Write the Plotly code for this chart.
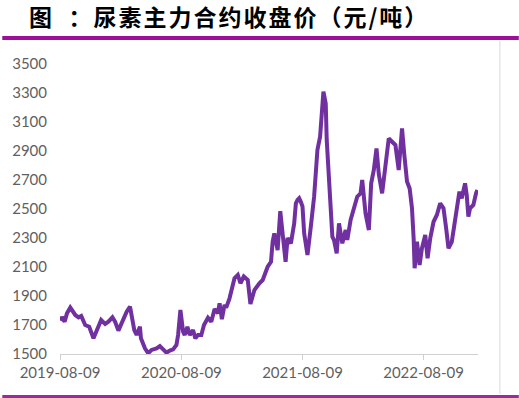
import plotly.graph_objects as go

# Urea main contract closing price (yuan/ton)
dates = [
    "2019-08-10", "2019-08-15", "2019-08-23", "2019-08-30", "2019-09-09", "2019-09-24",
    "2019-10-04", "2019-10-12", "2019-10-24", "2019-11-05", "2019-11-18", "2019-11-28",
    "2019-12-11", "2019-12-23", "2020-01-02", "2020-01-14", "2020-01-22", "2020-02-01",
    "2020-02-16", "2020-02-26", "2020-03-07", "2020-03-12", "2020-03-20", "2020-03-27",
    "2020-04-06", "2020-04-09", "2020-04-21", "2020-05-01", "2020-05-11", "2020-05-26",
    "2020-06-05", "2020-06-15", "2020-06-25", "2020-07-05", "2020-07-15", "2020-07-25",
    "2020-07-30", "2020-08-06", "2020-08-14", "2020-08-19", "2020-08-27", "2020-09-03",
    "2020-09-13", "2020-09-20", "2020-09-28", "2020-10-08", "2020-10-16", "2020-10-28",
    "2020-11-07", "2020-11-17", "2020-11-27", "2020-12-02", "2020-12-09", "2020-12-17",
    "2020-12-22", "2021-01-01", "2021-01-16", "2021-01-26", "2021-02-03", "2021-02-13",
    "2021-02-25", "2021-03-05", "2021-03-17", "2021-04-01", "2021-04-11", "2021-04-26",
    "2021-05-06", "2021-05-11", "2021-05-16", "2021-05-26", "2021-06-03", "2021-06-10",
    "2021-06-19", "2021-06-25", "2021-07-05", "2021-07-15", "2021-07-20", "2021-07-25",
    "2021-07-30", "2021-08-04", "2021-08-09", "2021-08-14", "2021-08-22", "2021-08-24",
    "2021-09-03", "2021-09-13", "2021-09-23", "2021-10-01", "2021-10-11", "2021-10-18",
    "2021-10-21", "2021-10-26", "2021-10-31", "2021-11-07", "2021-11-12", "2021-11-20",
    "2021-11-27", "2021-12-07", "2021-12-17", "2021-12-22", "2022-01-01", "2022-01-11",
    "2022-01-21", "2022-01-31", "2022-02-05", "2022-02-15", "2022-02-25", "2022-03-04",
    "2022-03-12", "2022-03-20", "2022-03-27", "2022-04-06", "2022-04-16", "2022-04-26",
    "2022-05-06", "2022-05-16", "2022-05-26", "2022-06-05", "2022-06-12", "2022-06-20",
    "2022-06-28", "2022-07-05", "2022-07-10", "2022-07-13", "2022-07-20", "2022-07-28",
    "2022-08-04", "2022-08-14", "2022-08-21", "2022-08-29", "2022-09-08", "2022-09-18",
    "2022-09-28", "2022-10-08", "2022-10-16", "2022-10-23", "2022-11-02", "2022-11-12",
    "2022-11-19", "2022-11-25", "2022-12-02", "2022-12-12", "2022-12-17", "2022-12-22",
    "2022-12-27", "2023-01-06", "2023-01-14", "2023-01-18",
]
prices = [
    1730, 1755, 1723, 1780, 1820, 1769,
    1753, 1762, 1700, 1688, 1608, 1665,
    1734, 1707, 1723, 1753, 1723, 1661,
    1746, 1792, 1826, 1746, 1665, 1631,
    1688, 1608, 1539, 1505, 1528, 1539,
    1555, 1532, 1509, 1523, 1532, 1562,
    1631, 1803, 1654, 1631, 1688, 1631,
    1665, 1608, 1631, 1631, 1700, 1750,
    1723, 1810, 1780, 1850, 1740, 1838,
    1820, 1884, 2022, 2045, 1988, 2034,
    2010, 1845, 1941, 1988, 2010, 2102,
    2136, 2274, 2332, 2217, 2485, 2332,
    2136, 2300, 2263, 2401, 2539, 2562,
    2574, 2550, 2516, 2332, 2220, 2183,
    2378, 2585, 2907, 2999, 3309, 3228,
    2976, 2769, 2562, 2309, 2286, 2194,
    2401, 2263, 2355, 2286, 2424, 2516,
    2585, 2608, 2700, 2470, 2355, 2677,
    2769, 2918, 2740, 2608, 2803, 2987,
    2964, 2941, 2769, 3056, 2872, 2689,
    2642, 2505, 2298, 2091, 2274, 2114,
    2229, 2321, 2160, 2298, 2412, 2459,
    2539, 2505, 2367, 2229, 2274, 2412,
    2505, 2620, 2574, 2677, 2596, 2447,
    2505, 2528, 2608, 2631,
]

x_tick_vals = ["2019-08-09", "2020-08-09", "2021-08-09", "2022-08-09"]
x_tick_text = ["2019-08-09", "2020-08-09", "2021-08-09", "2022-08-09"]
y_tick_vals = [1500, 1700, 1900, 2100, 2300, 2500, 2700, 2900, 3100, 3300, 3500]

title_text = "图\u00a0\u00a0：尿素主力合约收盘价（元/吨）"

W, H = 519, 398
ML, MR, MT, MB = 58, 41, 64, 44
PW, PH = W - ML - MR, H - MT - MB


def px(xp):
    return (xp - ML) / PW


def py(yp):
    return (H - MB - yp) / PH


fig = go.Figure()
fig.add_trace(go.Scatter(
    x=dates, y=prices, mode="lines",
    line=dict(color="#7030A0", width=4),
    showlegend=False, hoverinfo="x+y",
))

tick_font = dict(family="Lato, 'Noto Sans', sans-serif", size=15, color="#5F5F5F")

fig.update_layout(
    width=W, height=H,
    margin=dict(l=ML, r=MR, t=MT, b=MB, pad=0),
    paper_bgcolor="white", plot_bgcolor="white",
    xaxis=dict(
        type="date",
        range=["2019-08-09", "2023-01-20"],
        tickvals=x_tick_vals, ticktext=x_tick_text,
        showgrid=False, zeroline=False,
        showline=True, linecolor="#D0D0D0", linewidth=1,
        ticks="outside", ticklen=5, tickcolor="#D0D0D0", tickwidth=1,
        tickfont=tick_font,
    ),
    yaxis=dict(
        range=[1500, 3500],
        tickvals=y_tick_vals,
        showgrid=False, zeroline=False, showline=False,
        ticks="", ticklabelstandoff=12,
        tickfont=tick_font,
    ),
    shapes=[
        dict(type="line", xref="paper", yref="paper",
             x0=px(0), x1=px(W), y0=py(38), y1=py(38),
             line=dict(color="#9B0F9B", width=4)),
        dict(type="line", xref="paper", yref="paper",
             x0=px(500), x1=px(500), y0=py(41), y1=py(394),
             line=dict(color="#D9D9D9", width=1)),
        dict(type="line", xref="paper", yref="paper",
             x0=px(0), x1=px(W), y0=py(396.5), y1=py(396.5),
             line=dict(color="#A0289F", width=3)),
    ],
    annotations=[
        dict(text="<b><span style=\"letter-spacing:2px\">" + title_text + "</span></b>",
             xref="paper", yref="paper",
             x=px(26), y=py(16), xanchor="left", yanchor="middle",
             showarrow=False, borderpad=0,
             font=dict(family="'Noto Sans CJK SC', sans-serif", size=23, color="#000000")),
    ],
)

fig.write_html("out.html", config={"displayModeBar": False},
               post_script="document.body.style.margin='0';")
